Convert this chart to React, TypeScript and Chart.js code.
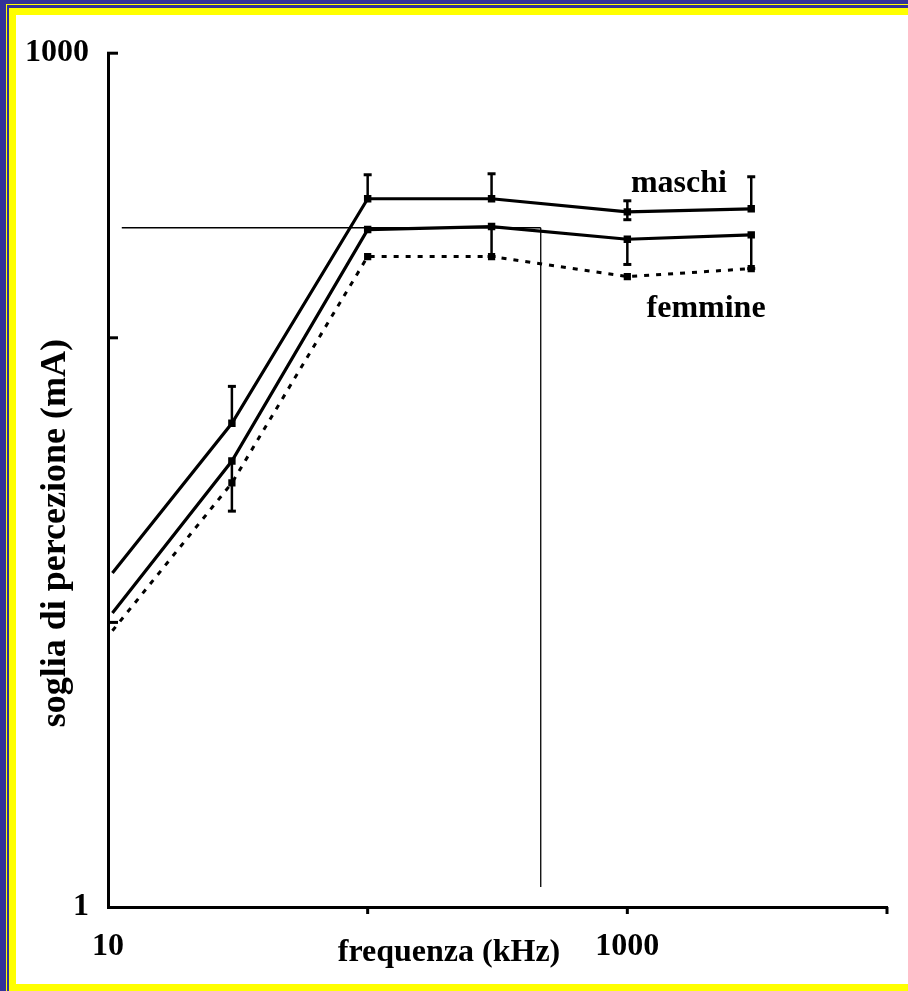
import React, { useEffect, useRef } from "react";
import { Chart, registerables } from "chart.js";

Chart.register(...registerables);

// ---- data ----
const freq = [10.4, 30, 100, 300, 1000, 3000];
const maschi = [14.9, 50.1, 308, 308, 277, 284];
const media = [10.8, 36.9, 240, 246, 222, 230];
const femmine = [9.35, 30.9, 193, 193, 164, 175];
const maschiErrHigh = [null, 67.5, 374, 377, 303, 368];
const maschiErrLow = [null, null, null, null, 260, null];
const mediaErrLow = [null, 24.6, null, 193, 181, 175];
const refLineX = [11.3, 464];
const refLineY = [243.6, 1.175];
const xTicks = [10, 100, 1000, 10000];
const xTickLabels = ["10", "", "1000", ""];
const yTicks = [1, 10, 100, 1000];
const yTickLabels = ["1", "", "", "1000"];
const seriesLabels = ["maschi", "femmine"];
const xTitle = "frequenza (kHz)";
const yTitle = "soglia di percezione (mA)";

const FONT = '"Liberation Serif", "Times New Roman", serif';

const pts = (ys: (number | null)[]) =>
  freq.map((f, i) => ({ x: f, y: ys[i] as number }));

const overlay = {
  id: "overlay",
  afterDraw(chart: any) {
    const { ctx, chartArea: ca } = chart;
    const x = chart.scales.x;
    const y = chart.scales.y;
    ctx.save();
    ctx.strokeStyle = "#000";
    ctx.fillStyle = "#000";
    ctx.lineCap = "butt";

    // inward y ticks
    ctx.lineWidth = 3;
    yTicks.forEach((v) => {
      if (v === 1) return;
      const py = y.getPixelForValue(v);
      ctx.beginPath();
      ctx.moveTo(ca.left - 1, py);
      ctx.lineTo(ca.left + 10, py);
      ctx.stroke();
    });
    // downward x ticks
    xTicks.forEach((v) => {
      if (v === 10) return;
      const px = x.getPixelForValue(v);
      ctx.beginPath();
      ctx.moveTo(px, ca.bottom);
      ctx.lineTo(px, ca.bottom + 7);
      ctx.stroke();
    });

    // error bars
    const bar = (vals: (number | null)[], ends: (number | null)[]) => {
      freq.forEach((f, i) => {
        const e = ends[i];
        const v = vals[i];
        if (e == null || v == null) return;
        const px = x.getPixelForValue(f);
        const p0 = y.getPixelForValue(v);
        const p1 = y.getPixelForValue(e);
        ctx.lineWidth = 2.5;
        ctx.beginPath();
        ctx.moveTo(px, p0);
        ctx.lineTo(px, p1);
        ctx.stroke();
        ctx.lineWidth = 3;
        ctx.beginPath();
        ctx.moveTo(px - 4, p1);
        ctx.lineTo(px + 4, p1);
        ctx.stroke();
      });
    };
    bar(maschi, maschiErrHigh);
    bar(maschi, maschiErrLow);
    bar(media, mediaErrLow);

    // series labels
    ctx.font = `bold 32px ${FONT}`;
    ctx.textAlign = "center";
    ctx.textBaseline = "alphabetic";
    ctx.fillText(seriesLabels[0], x.getPixelForValue(1580), y.getPixelForValue(326));
    ctx.fillText(seriesLabels[1], x.getPixelForValue(2010), y.getPixelForValue(118));

    // x title
    ctx.fillText(xTitle, ca.left + 341, ca.bottom + 54);

    // y title
    ctx.font = `bold 36px ${FONT}`;
    ctx.translate(ca.left - 52, ca.top + 480);
    ctx.rotate(-Math.PI / 2);
    ctx.textBaseline = "middle";
    ctx.fillText(yTitle, 0, 0);
    ctx.restore();
  },
};

export default function App() {
  const ref = useRef<HTMLCanvasElement | null>(null);
  useEffect(() => {
    if (!ref.current) return;
    const chart = new Chart(ref.current, {
      type: "line",
      data: {
        datasets: [
          {
            label: "maschi",
            data: pts(maschi),
            borderColor: "#000",
            backgroundColor: "#000",
            borderWidth: 3.2,
            pointStyle: "rect",
            pointRadius: [0, 3, 3, 3, 3, 3],
            tension: 0,
          },
          {
            label: "media",
            data: pts(media),
            borderColor: "#000",
            backgroundColor: "#000",
            borderWidth: 3.2,
            pointStyle: "rect",
            pointRadius: [0, 3, 3, 3, 3, 3],
            tension: 0,
          },
          {
            label: "femmine",
            data: pts(femmine),
            borderColor: "#000",
            backgroundColor: "#000",
            borderWidth: 3,
            borderDash: [5, 7],
            pointStyle: "rect",
            pointRadius: [0, 3, 3, 3, 3, 3],
            tension: 0,
          },
          {
            label: "ref-h",
            data: [
              { x: refLineX[0], y: refLineY[0] },
              { x: refLineX[1], y: refLineY[0] },
            ],
            borderColor: "#000",
            borderWidth: 1.3,
            pointRadius: 0,
          },
          {
            label: "ref-v",
            data: [
              { x: refLineX[1], y: refLineY[0] },
              { x: refLineX[1], y: refLineY[1] },
            ],
            borderColor: "#000",
            borderWidth: 1.3,
            pointRadius: 0,
          },
        ],
      },
      options: {
        animation: false,
        responsive: false,
        maintainAspectRatio: false,
        layout: { padding: { top: 36, right: 21, left: 0, bottom: 0 } },
        plugins: { legend: { display: false }, tooltip: { enabled: false } },
        scales: {
          x: {
            type: "logarithmic",
            position: "bottom",
            min: 10,
            max: 10000,
            grid: { display: false, drawTicks: false },
            border: { display: true, color: "#000", width: 3 },
            ticks: {
              color: "#000",
              font: { family: FONT, size: 32, weight: "bold" },
              padding: 21,
              autoSkip: false,
              maxRotation: 0,
              callback: (v: any) => {
                const i = xTicks.indexOf(Number(v));
                return i >= 0 ? xTickLabels[i] : "";
              },
            },
            afterBuildTicks: (s: any) => {
              s.ticks = xTicks.map((v) => ({ value: v }));
            },
            afterFit: (s: any) => {
              s.height = 77;
            },
          },
          y: {
            type: "logarithmic",
            position: "left",
            min: 1,
            max: 1000,
            grid: { display: false, drawTicks: false },
            border: { display: true, color: "#000", width: 3 },
            ticks: {
              color: "#000",
              font: { family: FONT, size: 32, weight: "bold" },
              padding: 19,
              autoSkip: false,
              callback: (v: any) => {
                const i = yTicks.indexOf(Number(v));
                return i >= 0 ? yTickLabels[i] : "";
              },
            },
            afterBuildTicks: (s: any) => {
              s.ticks = yTicks.map((v) => ({ value: v }));
            },
            afterFit: (s: any) => {
              s.width = 92;
            },
          },
        },
      },
      plugins: [overlay],
    } as any);
    return () => chart.destroy();
  }, []);

  return (
    <div
      style={{
        position: "fixed",
        left: 0,
        top: 0,
        width: 908,
        height: 991,
        background: "#333399",
        overflow: "hidden",
      }}
    >
      <div style={{ position: "absolute", left: 6, top: 4, width: 1, height: 987, background: "#ffff00" }} />
      <div style={{ position: "absolute", left: 6, top: 4, width: 902, height: 1, background: "#ffff00" }} />
      <div style={{ position: "absolute", left: 9, top: 8, width: 899, height: 983, background: "#ffff00" }} />
      <div style={{ position: "absolute", left: 16, top: 15, width: 892, height: 969, background: "#ffffff" }}>
        <canvas ref={ref} width={892} height={969} style={{ width: 892, height: 969, display: "block" }} />
      </div>
    </div>
  );
}
